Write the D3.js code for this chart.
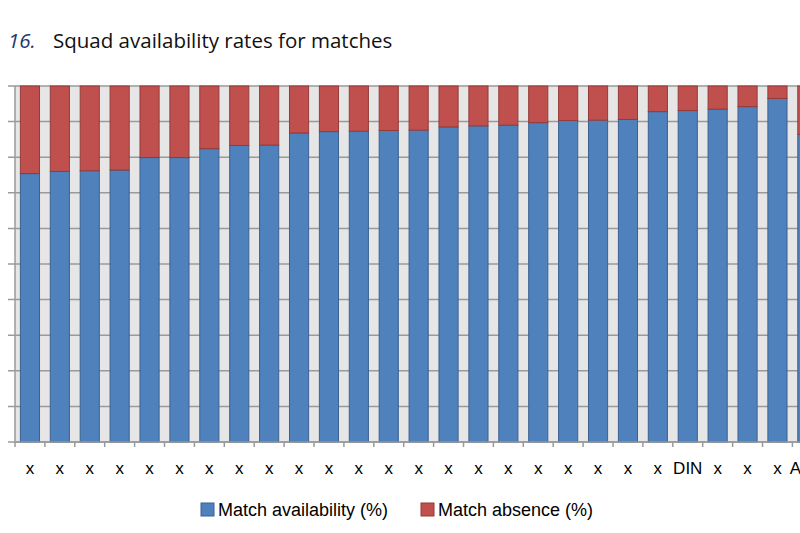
<!DOCTYPE html>
<html>
<head>
<meta charset="utf-8">
<script src="https://cdn.jsdelivr.net/npm/d3@7"></script>
<style>
  body { margin: 0; background: #fff; overflow: hidden; }
  svg { display: block; }
</style>
</head>
<body>
<div id="chart"></div>
<script>
// teams (names hidden as "x" in the source, last one is cut off at the right edge)
const teams = ['x','x','x','x','x','x','x','x','x','x','x','x','x','x','x','x','x','x','x','x','x','x','DIN','x','x','x','AUS'];
// match availability in %
const availability = [75.4, 76.0, 76.2, 76.4, 79.9, 79.9, 82.4, 83.3, 83.4, 86.8, 87.2, 87.3, 87.5, 87.6,
  88.5, 88.8, 89.0, 89.7, 90.3, 90.4, 90.6, 92.8, 93.1, 93.5, 94.2, 96.5, 86.4];
const absence = availability.map(v => 100 - v);
const seriesNames = ['Match availability (%)', 'Match absence (%)'];
const yTicks = [0, 10, 20, 30, 40, 50, 60, 70, 80, 90, 100];

const config = {
  width: 800,
  height: 533,
  plotLeft: 15,
  plotTop: 86,
  plotBottom: 442,
  band: 29.9,
  colors: ['#4f81bd', '#c0504d'],
  strokes: ['#3a6192', '#943b38']
};

const svg = d3.select('#chart').append('svg')
    .attr('width', config.width)
    .attr('height', config.height);

// Title
const title = svg.append('text')
    .attr('x', 8)
    .attr('y', 48)
    .style('font-family', '"Open Sans", "Noto Sans", sans-serif')
    .style('font-size', '20.5px')
    .attr('fill', '#111');
title.append('tspan')
    .style('font-style', 'italic')
    .attr('fill', '#1f3a6e')
    .text('16.');
title.append('tspan')
    .attr('x', 53)
    .text('Squad availability rates for matches');

// Scales
const plotRight = config.plotLeft + teams.length * config.band;
const x = d3.scaleBand()
    .domain(d3.range(teams.length))
    .range([config.plotLeft, plotRight])
    .paddingInner(0.36)
    .paddingOuter(0.18);

const y = d3.scaleLinear()
    .domain([0, 100])
    .range([config.plotBottom, config.plotTop]);

// Plot background (runs past the right edge, like the cropped original)
svg.append('rect')
    .attr('x', config.plotLeft)
    .attr('y', config.plotTop)
    .attr('width', plotRight + 20 - config.plotLeft)
    .attr('height', config.plotBottom - config.plotTop)
    .attr('fill', '#e6e6e6');

// Gridlines
svg.append('g')
    .selectAll('line')
    .data(yTicks)
    .join('line')
    .attr('x1', config.plotLeft - 7)
    .attr('x2', plotRight + 20)
    .attr('y1', d => y(d))
    .attr('y2', d => y(d))
    .attr('stroke', '#9a9a9a')
    .attr('stroke-width', 1.5);

// Stacked bars
const rows = teams.map((t, i) => ({ i: i, a: availability[i], b: absence[i] }));
const stack = d3.stack().keys(['a', 'b'])(rows);

svg.append('g')
    .selectAll('g')
    .data(stack)
    .join('g')
    .attr('fill', (d, k) => config.colors[k])
    .attr('stroke', (d, k) => config.strokes[k])
    .attr('stroke-width', 1)
    .selectAll('rect')
    .data(d => d)
    .join('rect')
    .attr('x', d => x(d.data.i))
    .attr('width', x.bandwidth())
    .attr('y', d => y(d[1]))
    .attr('height', d => y(d[0]) - y(d[1]));

// Y axis line
svg.append('line')
    .attr('x1', config.plotLeft)
    .attr('x2', config.plotLeft)
    .attr('y1', config.plotTop)
    .attr('y2', config.plotBottom)
    .attr('stroke', '#9a9a9a')
    .attr('stroke-width', 1.5);

// X axis: line, ticks between categories and labels
const xAxis = svg.append('g');
xAxis.append('line')
    .attr('x1', config.plotLeft)
    .attr('x2', plotRight + 20)
    .attr('y1', config.plotBottom)
    .attr('y2', config.plotBottom)
    .attr('stroke', '#9a9a9a')
    .attr('stroke-width', 1.5);

xAxis.selectAll('.tick')
    .data(d3.range(teams.length + 1))
    .join('line')
    .attr('class', 'tick')
    .attr('x1', i => config.plotLeft + i * config.band)
    .attr('x2', i => config.plotLeft + i * config.band)
    .attr('y1', config.plotBottom)
    .attr('y2', config.plotBottom + 5)
    .attr('stroke', '#9a9a9a')
    .attr('stroke-width', 1.5);

xAxis.selectAll('.label')
    .data(teams)
    .join('text')
    .attr('class', 'label')
    .attr('x', (d, i) => x(i) + x.bandwidth() / 2)
    .attr('y', 474)
    .attr('text-anchor', 'middle')
    .style('font-family', '"Liberation Sans", Arial, sans-serif')
    .style('font-size', '17px')
    .attr('fill', '#000')
    .text(d => d);

// Legend
const legendX = [201, 421];
const legend = svg.append('g')
    .selectAll('g')
    .data(seriesNames)
    .join('g')
    .attr('transform', (d, i) => `translate(${legendX[i]},503)`);

legend.append('rect')
    .attr('width', 13)
    .attr('height', 13)
    .attr('fill', (d, i) => config.colors[i])
    .attr('stroke', (d, i) => config.strokes[i]);

legend.append('text')
    .attr('x', 17)
    .attr('y', 13)
    .style('font-family', '"Liberation Sans", Arial, sans-serif')
    .style('font-size', '18px')
    .attr('fill', '#000')
    .text(d => d);
</script>
</body>
</html>
